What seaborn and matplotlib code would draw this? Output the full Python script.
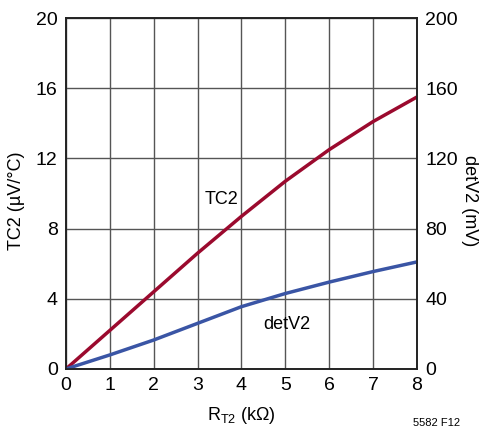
import matplotlib
matplotlib.use('Agg')
import matplotlib.pyplot as plt
import seaborn as sns
import pandas as pd

# R_T2 (kOhm)
rt2 = [0, 1, 2, 3, 4, 5, 6, 7, 8]
# TC2 (uV/C), left axis
tc2 = [0, 2.2, 4.4, 6.6, 8.7, 10.7, 12.5, 14.1, 15.5]
# detV2 (mV), right axis
detv2 = [0, 8, 16.5, 26, 35.5, 43, 49.5, 55.5, 61]

sns.set_style('white')
plt.rcParams['font.family'] = ['Liberation Sans', 'DejaVu Sans']
plt.rcParams['mathtext.fontset'] = 'custom'
plt.rcParams['mathtext.rm'] = 'Liberation Sans'
plt.rcParams['text.color'] = 'black'
plt.rcParams['axes.labelcolor'] = 'black'
plt.rcParams['xtick.color'] = 'black'
plt.rcParams['ytick.color'] = 'black'

df = pd.DataFrame({'rt2': rt2, 'tc2': tc2, 'detv2': detv2})

fig = plt.figure(figsize=(4.82, 4.30), dpi=100)
ax = fig.add_axes([0.137, 0.142, 0.728, 0.816])
ax2 = ax.twinx()

sns.lineplot(data=df, x='rt2', y='tc2', ax=ax, color='#9b0a2e', linewidth=2.5)
sns.lineplot(data=df, x='rt2', y='detv2', ax=ax2, color='#3a55a5', linewidth=2.5)

ax.set_xlim(0, 8)
ax.set_ylim(0, 20)
ax2.set_ylim(0, 200)
ax.set_xticks(range(0, 9))
ax.set_yticks(range(0, 21, 4))
ax2.set_yticks(range(0, 201, 40))
ax.grid(True, color='#555555', linewidth=1)
ax.set_axisbelow(True)

for a in (ax, ax2):
    a.tick_params(length=0, labelsize=14, pad=6)
    for s in a.spines.values():
        s.set_color('#222222')
        s.set_linewidth(1.2)

ax.set_xlabel(r'R$_{\mathregular{T2}}$ (kΩ)', fontsize=13, labelpad=8)
ax.set_ylabel('TC2 (µV/°C)', fontsize=13, va='center')
ax.yaxis.set_label_coords(-0.14, 0.48)
ax2.set_ylabel('detV2 (mV)', fontsize=13, rotation=270, va='center')
ax2.yaxis.set_label_coords(1.15, 0.48)

ax.text(3.15, 9.4, 'TC2', fontsize=13)
ax.text(4.5, 2.3, 'detV2', fontsize=13)
fig.text(0.905, 0.01, '5582 F12', fontsize=8, ha='center')

fig.savefig('out.png', dpi=100)
